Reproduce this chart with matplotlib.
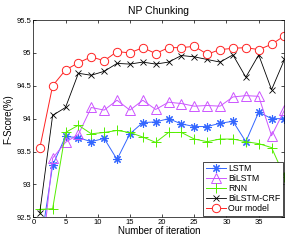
import numpy as np
from matplotlib import pyplot as plt

plt.rcParams['font.family'] = ['Liberation Sans', 'DejaVu Sans']

iterations = np.arange(1, 40, 2)

lstm = [92.0, 93.29, 93.73, 93.71, 93.65, 93.70, 93.38, 93.77, 93.94, 93.95,
        94.00, 93.92, 93.88, 93.88, 93.93, 93.96, 93.65, 94.10, 94.00, 94.00]
bilstm = [91.6, 93.40, 93.64, 93.76, 94.17, 94.13, 94.28, 94.13, 94.28, 94.14,
          94.25, 94.23, 94.19, 94.20, 94.19, 94.33, 94.35, 94.34, 93.74, 94.13]
rnn = [92.62, 92.63, 93.79, 93.90, 93.77, 93.79, 93.82, 93.79, 93.72, 93.64,
       93.79, 93.79, 93.69, 93.65, 93.69, 93.69, 93.65, 93.62, 93.56, 93.12]
bilstm_crf = [92.57, 94.05, 94.17, 94.69, 94.66, 94.72, 94.84, 94.83, 94.86, 94.83,
              94.86, 94.96, 94.94, 94.90, 94.86, 94.97, 94.63, 94.97, 94.44, 94.90]
our_model = [93.55, 94.50, 94.74, 94.85, 94.94, 94.88, 95.02, 95.00, 95.08, 94.99,
             95.08, 95.08, 95.10, 94.98, 95.05, 95.07, 95.08, 95.05, 95.13, 95.26]

figure = plt.figure(figsize=(2.91, 2.40), dpi=100)
ax = figure.add_axes([0.1145, 0.0946, 0.863, 0.822])

ax.plot(iterations, lstm, '-', marker=(8, 2, 0), color='#3366ff', lw=0.7, ms=6, mew=0.8, label='LSTM')
ax.plot(iterations, bilstm, '-^', color='#cc55ff', lw=0.7, ms=6.5, mfc='none', mew=0.7, label='BiLSTM')
ax.plot(iterations, rnn, '-+', color='#55ee00', lw=0.7, ms=7, mew=0.7, label='RNN')
ax.plot(iterations, bilstm_crf, '-x', color='black', lw=0.6, ms=4.5, mew=0.6, label='BiLSTM-CRF')
ax.plot(iterations, our_model, '-o', color='#ff2222', lw=0.7, ms=6, mfc='white', mew=0.7, label='Our model')

ax.set_xlim(0, 39)
ax.set_ylim(92.5, 95.5)
ax.set_xticks(range(0, 36, 5))
ax.set_yticks([92.5, 93, 93.5, 94, 94.5, 95, 95.5])
ax.set_yticklabels(['92.5', '93', '93.5', '94', '94.5', '95', '95.5'])
ax.tick_params(direction='in', top=True, right=True, labelsize=5.5, length=2.5, width=0.5, pad=1.5)
for s in ax.spines.values():
    s.set_linewidth(0.5)

ax.set_title('NP Chunking', fontsize=7.5, pad=4)
ax.set_xlabel('Number of iteration', fontsize=7, labelpad=0)
ax.set_ylabel('F-Score(%)', fontsize=7, labelpad=2)

leg = ax.legend(loc='lower right', fontsize=6.3, numpoints=1, handlelength=2.3,
                borderpad=0.3, labelspacing=0.12, handletextpad=0.3,
                fancybox=False, framealpha=1, edgecolor='black', borderaxespad=0.15)
leg.get_frame().set_linewidth(0.5)

plt.savefig('out.png', dpi=100)
